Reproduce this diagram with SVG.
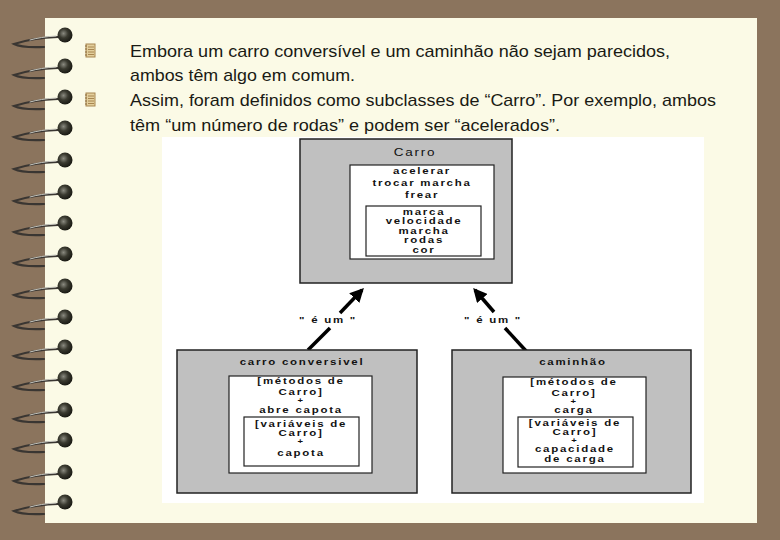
<svg xmlns="http://www.w3.org/2000/svg" width="780" height="540" viewBox="0 0 780 540">
<style>
.bt{font-family:"Liberation Sans",Arial,sans-serif;font-size:17px;fill:#1a1a14}
.d{font-family:"Liberation Sans",Arial,sans-serif;font-size:8.5px;font-weight:bold;fill:#111;text-anchor:middle;letter-spacing:1.3px}
.p{font-size:7px}
.outer{fill:#c0c0c0;stroke:#222;stroke-width:1.5}
.in{fill:#fff;stroke:#222;stroke-width:1.2}
.wire{fill:none;stroke:#3a3632;stroke-width:2.2;stroke-linecap:round}
.hl{fill:none;stroke:#c8c8c0;stroke-width:1;stroke-linecap:round}
.conn{stroke:#000;stroke-width:3.5;fill:none}
</style>
<defs>
<radialGradient id="dot" cx="0.4" cy="0.4" r="0.6">
<stop offset="0" stop-color="#8a8a80"/>
<stop offset="0.5" stop-color="#3a3a30"/>
<stop offset="1" stop-color="#1a1a14"/>
</radialGradient>
<marker id="ah" viewBox="0 0 10 10" refX="8" refY="5" markerWidth="4" markerHeight="4" orient="auto">
<path d="M0,0 L10,5 L0,10 Z" fill="#000"/>
</marker>
<g id="ring">
<path class="wire" d="M58,2 Q32,3 14,9 Q22,13 44,12"/>
<path class="hl" d="M56,1 Q40,2 30,5"/>
<circle cx="65" cy="0" r="7.5" fill="url(#dot)"/>
</g>
<g id="icon">
<rect x="0" y="0" width="9" height="13" fill="#e3cf9c" stroke="#a88650" stroke-width="1"/>
<path d="M2,3 H8 M2,5.5 H8 M2,8 H8 M2,10.5 H8" stroke="#a88650" stroke-width="1"/>
<path d="M-1,2 H1 M-1,5 H1 M-1,8 H1 M-1,11 H1" stroke="#8a6a3a" stroke-width="1"/>
</g>
</defs>
<rect width="780" height="540" fill="#8b745d"/>
<rect x="45" y="18" width="712" height="505" fill="#fbfae6"/>
<g id="rings">
<use href="#ring" y="35"/><use href="#ring" y="66"/><use href="#ring" y="97"/><use href="#ring" y="128"/>
<use href="#ring" y="160"/><use href="#ring" y="192"/><use href="#ring" y="223"/><use href="#ring" y="254"/>
<use href="#ring" y="286"/><use href="#ring" y="317"/><use href="#ring" y="347"/><use href="#ring" y="378"/>
<use href="#ring" y="410"/><use href="#ring" y="440"/><use href="#ring" y="472"/><use href="#ring" y="502"/>
</g>
<g id="bullets">
<use href="#icon" x="86" y="44"/>
<text class="bt" x="130" y="57" textLength="540" lengthAdjust="spacingAndGlyphs">Embora um carro conversível e um caminhão não sejam parecidos,</text>
<text class="bt" x="130" y="81" textLength="225" lengthAdjust="spacingAndGlyphs">ambos têm algo em comum.</text>
<use href="#icon" x="86" y="93"/>
<text class="bt" x="130" y="106" textLength="586" lengthAdjust="spacingAndGlyphs">Assim, foram definidos como subclasses de “Carro”. Por exemplo, ambos</text>
<text class="bt" x="130" y="131" textLength="430" lengthAdjust="spacingAndGlyphs">têm “um número de rodas” e podem ser “acelerados”.</text>
</g>
<rect x="162" y="137" width="542" height="366" fill="#ffffff"/>
<g id="carro">
<rect class="outer" x="300" y="139" width="212" height="144"/>
<rect class="in" x="350" y="165" width="144" height="94"/>
<rect class="in" x="366" y="206" width="115" height="50"/>
<g transform="scale(1.35 1)">
<text class="d" x="307.4" y="156" style="font-weight:normal;font-size:10px">Carro</text>
<text class="d" x="312.6" y="174.5">acelerar</text>
<text class="d" x="312.6" y="186.5">trocar marcha</text>
<text class="d" x="312.6" y="198.5">frear</text>
<text class="d" x="314.1" y="215">marca</text>
<text class="d" x="314.1" y="224.5">velocidade</text>
<text class="d" x="314.1" y="234">marcha</text>
<text class="d" x="314.1" y="243.5">rodas</text>
<text class="d" x="314.1" y="253">cor</text>
</g>
</g>
<g id="connectors">
<line class="conn" x1="340" y1="313" x2="362" y2="290" marker-end="url(#ah)"/>
<line class="conn" x1="330" y1="328" x2="308" y2="350"/>
<line class="conn" x1="494" y1="312" x2="475" y2="290" marker-end="url(#ah)"/>
<line class="conn" x1="505" y1="328" x2="527" y2="352"/>
<g transform="scale(1.35 1)">
<text class="d" x="243" y="323.5">" é um "</text>
<text class="d" x="365.2" y="323.5">" é um "</text>
</g>
</g>
<g id="conversivel">
<rect class="outer" x="177" y="350" width="240" height="143"/>
<rect class="in" x="229" y="376" width="143" height="97"/>
<rect class="in" x="244" y="417" width="115" height="49"/>
<g transform="scale(1.35 1)">
<text class="d" x="223.7" y="365.5">carro conversivel</text>
<text class="d" x="223" y="384">[métodos de</text>
<text class="d" x="223" y="395">Carro]</text>
<text class="d p" x="223" y="403.5">+</text>
<text class="d" x="223" y="413">abre capota</text>
<text class="d" x="223" y="427">[variáveis de</text>
<text class="d" x="223" y="436.5">Carro]</text>
<text class="d p" x="223" y="444.5">+</text>
<text class="d" x="223" y="456">capota</text>
</g>
</g>
<g id="caminhao">
<rect class="outer" x="452" y="350" width="239" height="143"/>
<rect class="in" x="503" y="377" width="143" height="96"/>
<rect class="in" x="518" y="417" width="115" height="50"/>
<g transform="scale(1.35 1)">
<text class="d" x="424.4" y="365.5">caminhão</text>
<text class="d" x="425.2" y="385">[métodos de</text>
<text class="d" x="425.2" y="396">Carro]</text>
<text class="d p" x="425.2" y="404.5">+</text>
<text class="d" x="425.2" y="413.5">carga</text>
<text class="d" x="425.9" y="426">[variáveis de</text>
<text class="d" x="425.9" y="435">Carro]</text>
<text class="d p" x="425.9" y="443">+</text>
<text class="d" x="425.9" y="452.5">capacidade</text>
<text class="d" x="425.9" y="462">de carga</text>
</g>
</g>
</svg>
